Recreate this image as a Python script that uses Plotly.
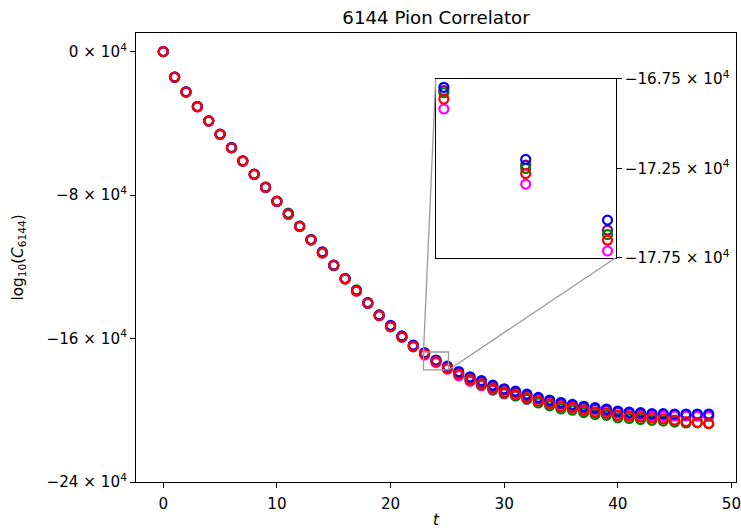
import plotly.graph_objects as go

t = list(range(49))

red = [0, -14290, -22500, -30710, -38690, -46120, -53600, -61030, -68450, -75710,
       -83530, -90620, -97490, -104970, -112230, -119260, -126740, -133440, -140310, -147180,
       -153320, -159130, -164320, -168620, -172790, -176520, -179790, -182910, -185150, -187770,
       -189840, -191120, -192960, -194860, -196310, -197990, -198490, -199830, -201000, -201450,
       -202850, -203290, -203770, -204300, -204800, -205530, -206300, -206700, -207320]
blue = [0, -14200, -22400, -30600, -38600, -46000, -53500, -60900, -68300, -75600,
        -83400, -90500, -97300, -104800, -111700, -119100, -126500, -133200, -140000, -146800,
        -152700, -158500, -163600, -167965, -172000, -175400, -178400, -181300, -183500, -186000,
        -188000, -189300, -191000, -192800, -194300, -195700, -196700, -197800, -198550, -199330,
        -200450, -201000, -201340, -201900, -201900, -202100, -202100, -202100, -202100]
purple = [0, -14250, -22450, -30650, -38650, -46070, -53550, -60970, -68380, -75650,
          -83470, -90560, -97400, -104880, -111950, -119180, -126620, -133320, -140150, -146990,
          -153000, -158800, -163950, -168150, -172320, -175960, -179000, -181900, -184100, -186700,
          -188700, -190000, -191800, -193600, -195100, -196600, -197500, -198600, -199500, -200100,
          -201200, -201800, -202200, -202700, -202800, -203000, -203000, -203000, -203100]
green = [0, -14230, -22480, -30700, -38680, -46100, -53580, -61000, -68420, -75690,
         -83500, -90000, -97450, -104950, -112200, -119230, -126700, -132900, -140280, -147150,
         -153300, -159100, -164250, -168270, -172505, -176205, -179900, -183100, -185600, -188300,
         -190500, -191900, -193800, -195900, -197500, -199300, -200000, -201300, -202400, -202800,
         -204200, -204600, -205100, -205600, -206000, -206600, -207100, -207000, -207600]
magenta = [0, -14320, -22540, -30750, -38740, -46170, -53650, -61080, -68500, -75770,
           -83600, -90700, -97560, -105050, -112300, -119350, -126820, -133520, -140400, -147280,
           -153450, -159300, -164600, -169180, -173385, -177125, -180700, -183900, -186300, -188900,
           -190900, -192100, -193900, -195600, -196900, -198300, -198900, -200200, -201200, -201800,
           -202800, -203100, -203300, -203500, -203300, -203200, -203200, -203300, -203500]

# drawing order (last is on top)
series = [("purple", purple), ("magenta", magenta), ("green", green), ("blue", blue), ("red", red)]

y_ticks = [0, -80000, -160000, -240000]
y_ticktext = ["0 × 10<sup>4</sup>", "−8 × 10<sup>4</sup>", "−16 × 10<sup>4</sup>", "−24 × 10<sup>4</sup>"]
x_ticks = [0, 10, 20, 30, 40, 50]
inset_y_ticks = [-167500, -172500, -177500]
inset_y_ticktext = ["−16.75 × 10<sup>4</sup>", "−17.25 × 10<sup>4</sup>", "−17.75 × 10<sup>4</sup>"]

x_range = [-2.4, 50.4]
y_range = [-240000, 10400]
inset_x_range = [22.9, 25.1]
inset_y_range = [-177500, -167500]
inset_dom_x = [0.4995, 0.7995]
inset_dom_y = [0.4996, 0.8976]

font = "DejaVu Sans"
tick_size = 15.2
fig = go.Figure()

for col, vals in series:
    fig.add_trace(go.Scatter(x=t, y=vals, mode="markers", xaxis="x", yaxis="y",
                             marker=dict(symbol="circle-open", size=9, color=col,
                                         line=dict(width=2.2, color=col)),
                             showlegend=False, hoverinfo="skip"))

inset_idx = [i for i in t if inset_x_range[0] <= i <= inset_x_range[1]]
for col, vals in series:
    fig.add_trace(go.Scatter(x=inset_idx, y=[vals[i] for i in inset_idx], mode="markers",
                             xaxis="x2", yaxis="y2",
                             marker=dict(symbol="circle-open", size=9, color=col,
                                         line=dict(width=2.2, color=col)),
                             showlegend=False, hoverinfo="skip"))


def to_paper_x(v):
    return (v - x_range[0]) / (x_range[1] - x_range[0])


def to_paper_y(v):
    return (v - y_range[0]) / (y_range[1] - y_range[0])


gray = "#9a9a9a"
shapes = [
    dict(type="rect", xref="x", yref="y", x0=inset_x_range[0], x1=inset_x_range[1],
         y0=inset_y_range[0], y1=inset_y_range[1], line=dict(color=gray, width=1.3)),
    dict(type="line", xref="paper", yref="paper",
         x0=to_paper_x(inset_x_range[0]), y0=to_paper_y(inset_y_range[1]),
         x1=inset_dom_x[0], y1=inset_dom_y[1], line=dict(color=gray, width=1.3)),
    dict(type="line", xref="paper", yref="paper",
         x0=to_paper_x(inset_x_range[1]), y0=to_paper_y(inset_y_range[0]),
         x1=inset_dom_x[1], y1=inset_dom_y[0], line=dict(color=gray, width=1.3)),
    dict(type="rect", xref="paper", yref="paper", x0=inset_dom_x[0], x1=inset_dom_x[1],
         y0=inset_dom_y[0], y1=inset_dom_y[1], line=dict(width=0), fillcolor="white",
         layer="below"),
]

common = dict(showgrid=False, zeroline=False, automargin=False, linecolor="black",
              linewidth=1, showline=True, mirror=True, tickcolor="black")

fig.update_layout(
    width=741, height=530,
    margin=dict(l=136, r=5, t=33, b=48, autoexpand=False),
    paper_bgcolor="white", plot_bgcolor="white",
    font=dict(family=font, size=tick_size, color="black"),
    title=dict(text="6144 Pion Correlator", xref="paper", x=0.5, xanchor="center",
               yref="container", y=0.967, yanchor="middle", automargin=False,
               font=dict(family=font, size=18.2, color="black")),
    xaxis=dict(domain=[0, 1], range=x_range, tickvals=x_ticks, ticks="outside", ticklen=5,
               tickfont=dict(size=tick_size), ticklabeloverflow="allow", ticklabelstandoff=3,
               **common),
    yaxis=dict(domain=[0, 1], range=y_range, tickvals=y_ticks, ticktext=y_ticktext,
               ticks="outside", ticklen=5, tickfont=dict(size=tick_size),
               ticklabeloverflow="allow", **common),
    xaxis2=dict(domain=inset_dom_x, range=inset_x_range, anchor="y2", showticklabels=False,
                ticks="", **common),
    yaxis2=dict(domain=inset_dom_y, range=inset_y_range, anchor="x2", side="right",
                tickvals=inset_y_ticks, ticktext=inset_y_ticktext, ticks="outside", ticklen=5,
                tickfont=dict(size=tick_size), ticklabeloverflow="allow", **common),
    shapes=shapes,
    annotations=[
        dict(text="log<sub>10</sub>(<i>C</i><sub>6144</sub>)", xref="paper", yref="paper",
             x=(18 - 136) / 600, y=0.5, xanchor="center", yanchor="middle", textangle=-90,
             showarrow=False, font=dict(family=font, size=tick_size, color="black")),
        dict(text="<i>t</i>", xref="paper", yref="paper", x=0.5, y=(482 - 520) / 449,
             xanchor="center", yanchor="middle", showarrow=False,
             font=dict(family=font, size=tick_size, color="black")),
    ],
)

fig.write_html("out.html")
